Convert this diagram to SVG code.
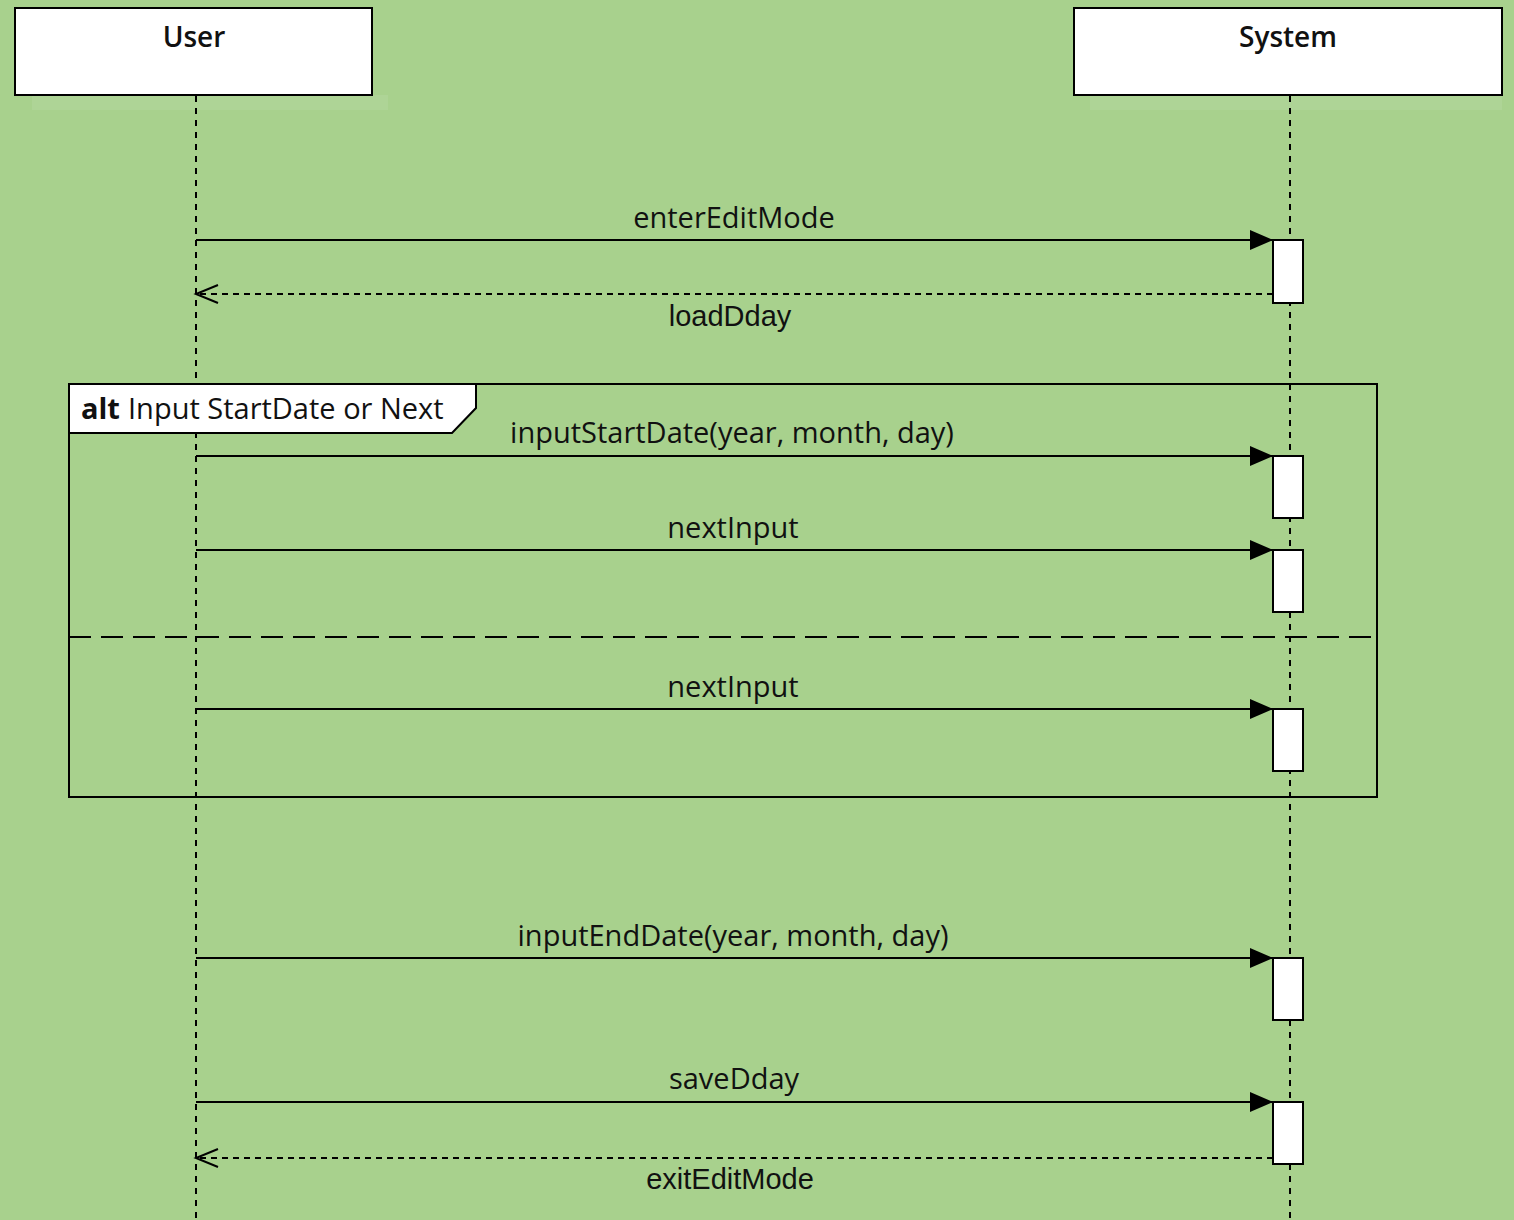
<svg xmlns="http://www.w3.org/2000/svg" width="1514" height="1220" viewBox="0 0 1514 1220">
<style>
.head{fill:#fff;stroke:#000;stroke-width:2}
.shadow{fill:#aed496}
.life{stroke:#000;stroke-width:2;stroke-dasharray:6 6;fill:none}
.act{fill:#fff;stroke:#000;stroke-width:2}
.msg{stroke:#000;stroke-width:2;fill:none}
.ret{stroke:#000;stroke-width:2;stroke-dasharray:6 5;fill:none}
.t{font-family:"Open Sans","Noto Sans","DejaVu Sans",sans-serif;font-size:29px;fill:#111}
.h{font-family:"Open Sans","Noto Sans","DejaVu Sans",sans-serif;font-size:28px;fill:#111;font-weight:600}
.r{font-family:"Liberation Sans",Arial,sans-serif;font-size:29px;fill:#111}
.frame{fill:none;stroke:#000;stroke-width:2}
</style>
<defs>
<marker id="fill" markerWidth="24" markerHeight="22" refX="23" refY="11" orient="auto" markerUnits="userSpaceOnUse">
<path d="M0,1 L23,11 L0,21 Z" fill="#000"/>
</marker>
<marker id="open" markerWidth="26" markerHeight="22" refX="23" refY="11" orient="auto" markerUnits="userSpaceOnUse">
<path d="M1,2 L23,11 L1,20" fill="none" stroke="#000" stroke-width="2"/>
</marker>
</defs>
<rect width="1514" height="1220" fill="#a8d18d"/>
<g id="user">
<rect class="shadow" x="32" y="95" width="356" height="15"/>
<rect class="head" x="15" y="8" width="357" height="87"/>
<text class="h" x="194" y="47" text-anchor="middle">User</text>
<line class="life" x1="196" y1="96" x2="196" y2="1220"/>
</g>
<g id="system">
<rect class="shadow" x="1090" y="95" width="412" height="15"/>
<rect class="head" x="1074" y="8" width="428" height="87"/>
<text class="h" x="1288" y="47" text-anchor="middle">System</text>
<line class="life" x1="1290" y1="96" x2="1290" y2="1220"/>
</g>
<g id="alt-frame">
<rect class="frame" x="69" y="384" width="1308" height="413"/>
<path d="M69,384 L476,384 L476,408 L452,433 L69,433 Z" fill="#fff" stroke="#000" stroke-width="2"/>
<text x="81" y="419" font-family="'Open Sans','Noto Sans',sans-serif" font-size="29" fill="#111"><tspan font-weight="bold">alt</tspan><tspan x="128">Input StartDate or Next</tspan></text>
<line x1="69" y1="637" x2="1377" y2="637" stroke="#000" stroke-width="2" stroke-dasharray="22 10"/>
</g>
<g id="activations">
<rect class="act" x="1273" y="240" width="30" height="63"/>
<rect class="act" x="1273" y="456" width="30" height="62"/>
<rect class="act" x="1273" y="550" width="30" height="62"/>
<rect class="act" x="1273" y="709" width="30" height="62"/>
<rect class="act" x="1273" y="958" width="30" height="62"/>
<rect class="act" x="1273" y="1102" width="30" height="62"/>
</g>
<g id="connectors">
<line class="msg" x1="196" y1="240" x2="1273" y2="240" marker-end="url(#fill)"/>
<line class="ret" x1="1273" y1="294" x2="196" y2="294" marker-end="url(#open)"/>
<line class="msg" x1="196" y1="456" x2="1273" y2="456" marker-end="url(#fill)"/>
<line class="msg" x1="196" y1="550" x2="1273" y2="550" marker-end="url(#fill)"/>
<line class="msg" x1="196" y1="709" x2="1273" y2="709" marker-end="url(#fill)"/>
<line class="msg" x1="196" y1="958" x2="1273" y2="958" marker-end="url(#fill)"/>
<line class="msg" x1="196" y1="1102" x2="1273" y2="1102" marker-end="url(#fill)"/>
<line class="ret" x1="1273" y1="1158" x2="196" y2="1158" marker-end="url(#open)"/>
</g>
<g id="labels">
<text class="t" x="734" y="228" text-anchor="middle">enterEditMode</text>
<text class="r" x="730" y="326" text-anchor="middle">loadDday</text>
<text class="t" x="732" y="443" text-anchor="middle">inputStartDate(year, month, day)</text>
<text class="t" x="733" y="538" text-anchor="middle">nextInput</text>
<text class="t" x="733" y="697" text-anchor="middle">nextInput</text>
<text class="t" x="733" y="946" text-anchor="middle">inputEndDate(year, month, day)</text>
<text class="t" x="734" y="1089" text-anchor="middle">saveDday</text>
<text class="r" x="730" y="1189" text-anchor="middle">exitEditMode</text>
</g>
</svg>
